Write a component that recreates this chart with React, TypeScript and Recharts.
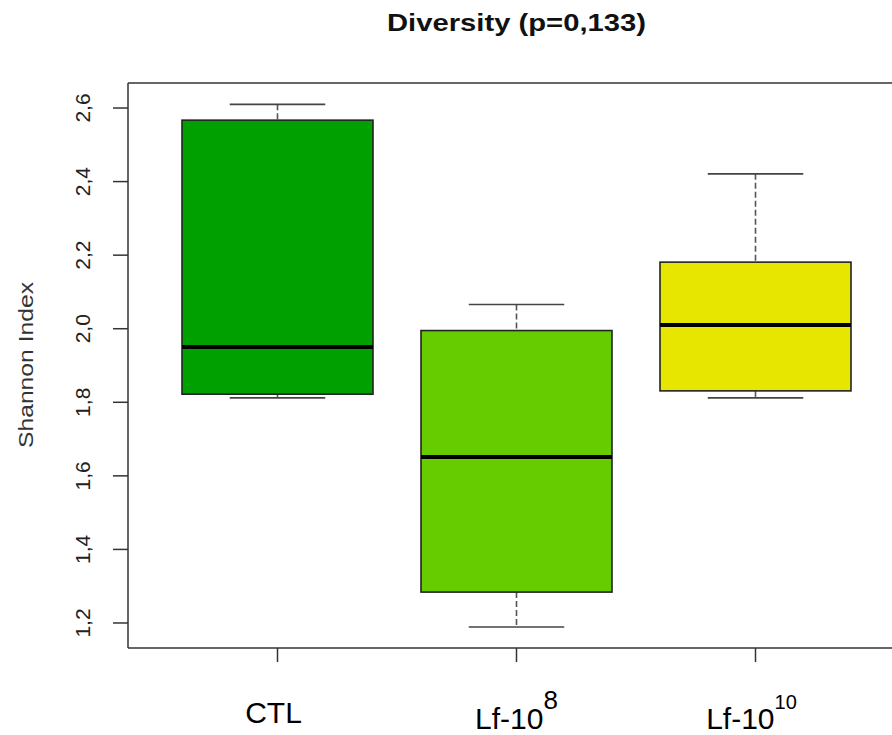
import { ComposedChart, Bar, XAxis, YAxis, ReferenceLine } from "recharts";

// groups and box statistics
const groups = ["CTL", "Lf-10^8", "Lf-10^10"];
const labelBase = ["CTL", "Lf-10", "Lf-10"];
const labelExp = ["", "8", "10"];

const whiskerLow = [1.812, 1.189, 1.812];
const q1 = [1.822, 1.284, 1.831];
const median = [1.95, 1.651, 2.01];
const q3 = [2.567, 1.995, 2.181];
const whiskerHigh = [2.61, 2.066, 2.421];

const boxColors = ["#00a000", "#66cc00", "#e6e600"];
const yTicks = [1.2, 1.4, 1.6, 1.8, 2.0, 2.2, 2.4, 2.6];
const yDomain = [1.132, 2.668];

const data = groups.map((g, i) => ({
  group: g,
  low: whiskerLow[i],
  med: median[i],
  high: whiskerHigh[i],
  box: [q1[i], q3[i]],
  color: boxColors[i],
}));

const FONT = "'Liberation Sans', Arial, sans-serif";

function BoxShape(props: any) {
  const { x, y, width, height, payload } = props;
  const top = Math.min(y, y + height);
  const h = Math.abs(height);
  const [lo, hi] = payload.box;
  const ppu = h / (hi - lo);
  const yOf = (v: number) => top + (hi - v) * ppu;
  const cx = x + width / 2;
  const capHalf = width / 4;
  return (
    <g>
      <line x1={cx} x2={cx} y1={yOf(payload.high)} y2={top} stroke="#555" strokeWidth={1.6} strokeDasharray="6 3" />
      <line x1={cx} x2={cx} y1={top + h} y2={yOf(payload.low)} stroke="#555" strokeWidth={1.6} strokeDasharray="6 3" />
      <line x1={cx - capHalf} x2={cx + capHalf} y1={yOf(payload.high)} y2={yOf(payload.high)} stroke="#444" strokeWidth={1.6} />
      <line x1={cx - capHalf} x2={cx + capHalf} y1={yOf(payload.low)} y2={yOf(payload.low)} stroke="#444" strokeWidth={1.6} />
      <rect x={x} y={top} width={width} height={h} fill={payload.color} stroke="#222" strokeWidth={1.6} />
      <line x1={x} x2={x + width} y1={yOf(payload.med)} y2={yOf(payload.med)} stroke="#000" strokeWidth={4} />
    </g>
  );
}

function YTick(props: any) {
  const { y, payload } = props;
  return (
    <text
      transform={`translate(90, ${y}) rotate(-90)`}
      textAnchor="middle"
      fontSize={21}
      fontFamily={FONT}
      fill="#222"
    >
      {Number(payload.value).toFixed(1).replace(".", ",")}
    </text>
  );
}

function XTick(props: any) {
  const { x, payload } = props;
  const i = groups.indexOf(payload.value);
  const base = labelBase[i];
  const exp = labelExp[i];
  if (!exp) {
    return (
      <text x={x - 4} y={723} textAnchor="middle" fontSize={30} fontFamily={FONT} fill="#000">
        {base}
      </text>
    );
  }
  const expSize = exp.length > 1 ? 20 : 26;
  return (
    <text x={x - (exp.length > 1 ? 4 : 0)} y={729} textAnchor="middle" fontSize={30} fontFamily={FONT} fill="#000">
      {base}
      <tspan fontSize={expSize} dy={-20}>{exp}</tspan>
    </text>
  );
}

export default function App() {
  return (
    <div
      style={{
        position: "fixed",
        left: 0,
        top: 0,
        width: 892,
        height: 735,
        overflow: "hidden",
        background: "#fff",
      }}
    >
      <ComposedChart
        width={910}
        height={735}
        data={data}
        margin={{ top: 83, right: 5, bottom: 0, left: 0 }}
      >
        <XAxis
          dataKey="group"
          type="category"
          height={87}
          padding={{ left: 30, right: 30 }}
          tickSize={14}
          tickLine={{ stroke: "#333", strokeWidth: 1.5 }}
          axisLine={{ stroke: "#333", strokeWidth: 1.5 }}
          tick={<XTick />}
          interval={0}
        />
        <YAxis
          type="number"
          domain={yDomain}
          allowDataOverflow
          ticks={yTicks}
          width={128}
          tickSize={15}
          tickLine={{ stroke: "#333", strokeWidth: 1.5 }}
          axisLine={{ stroke: "#333", strokeWidth: 1.5 }}
          tick={<YTick />}
          interval={0}
        />
        <ReferenceLine y={yDomain[1]} stroke="#333" strokeWidth={1.5} />
        <Bar
          dataKey="box"
          barSize={191}
          shape={<BoxShape />}
          isAnimationActive={false}
        />
      </ComposedChart>
      <svg
        width={892}
        height={735}
        style={{ position: "absolute", left: 0, top: 0, pointerEvents: "none" }}
      >
        <text
          x={516.5}
          y={31}
          textAnchor="middle"
          fontSize={24}
          fontWeight="bold"
          fontFamily={FONT}
          textLength={259}
          lengthAdjust="spacingAndGlyphs"
          fill="#111"
        >
          Diversity (p=0,133)
        </text>
        <text
          transform="translate(33, 365) rotate(-90)"
          textAnchor="middle"
          fontSize={21}
          fontFamily={FONT}
          textLength={166}
          lengthAdjust="spacingAndGlyphs"
          fill="#333"
        >
          Shannon Index
        </text>
      </svg>
    </div>
  );
}
